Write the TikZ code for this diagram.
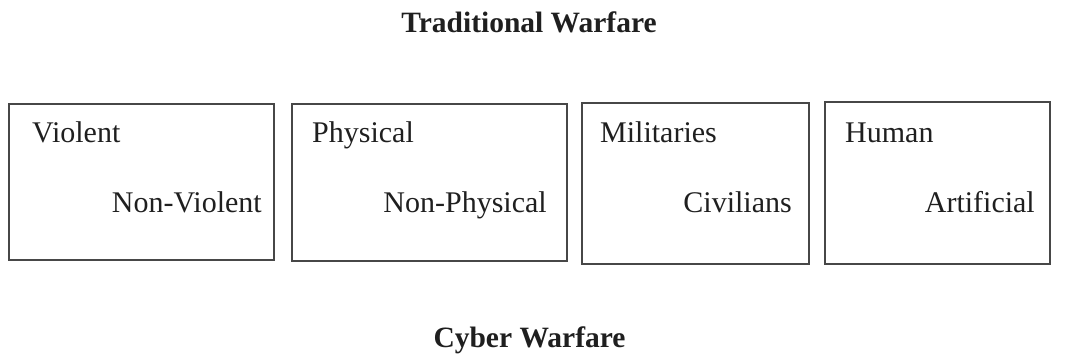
\documentclass[tikz,border=0pt]{standalone}
\usepackage{fontspec}
\setmainfont{Liberation Serif}
\begin{document}
\begin{tikzpicture}[x=1pt,y=-1pt,
  panel/.style={draw=black!72,line width=1.1pt,inner sep=0pt,rectangle},
  lbl/.style={inner sep=0pt,font=\fontsize{30}{34}\selectfont,text=black!88},
  ttl/.style={inner sep=0pt,font=\fontsize{29.5}{34}\selectfont\bfseries,text=black!88}]
\useasboundingbox (0,0) rectangle (1071,359);
\node[ttl,anchor=base] (t1) at (529,32) {Traditional Warfare};
\node[ttl,anchor=base] (t2) at (529.5,347) {Cyber Warfare};
\node[panel,minimum width=265pt,minimum height=156pt] (b1) at (141.5,182) {};
\node[panel,minimum width=275pt,minimum height=157pt] (b2) at (429.5,182.5) {};
\node[panel,minimum width=227pt,minimum height=161pt] (b3) at (695.5,183.5) {};
\node[panel,minimum width=225pt,minimum height=162pt] (b4) at (937.5,183) {};
\node[lbl,anchor=base west] (v1) at (32,142) {Violent};
\node[lbl,anchor=base east] (v2) at (262,212) {Non-Violent};
\node[lbl,anchor=base west] (p1) at (312,142) {Physical};
\node[lbl,anchor=base east] (p2) at (547,212) {Non-Physical};
\node[lbl,anchor=base west] (m1) at (600,142) {Militaries};
\node[lbl,anchor=base east] (m2) at (792,212) {Civilians};
\node[lbl,anchor=base west] (h1) at (845,142) {Human};
\node[lbl,anchor=base east] (h2) at (1035,212) {Artificial};
\end{tikzpicture}
\end{document}
